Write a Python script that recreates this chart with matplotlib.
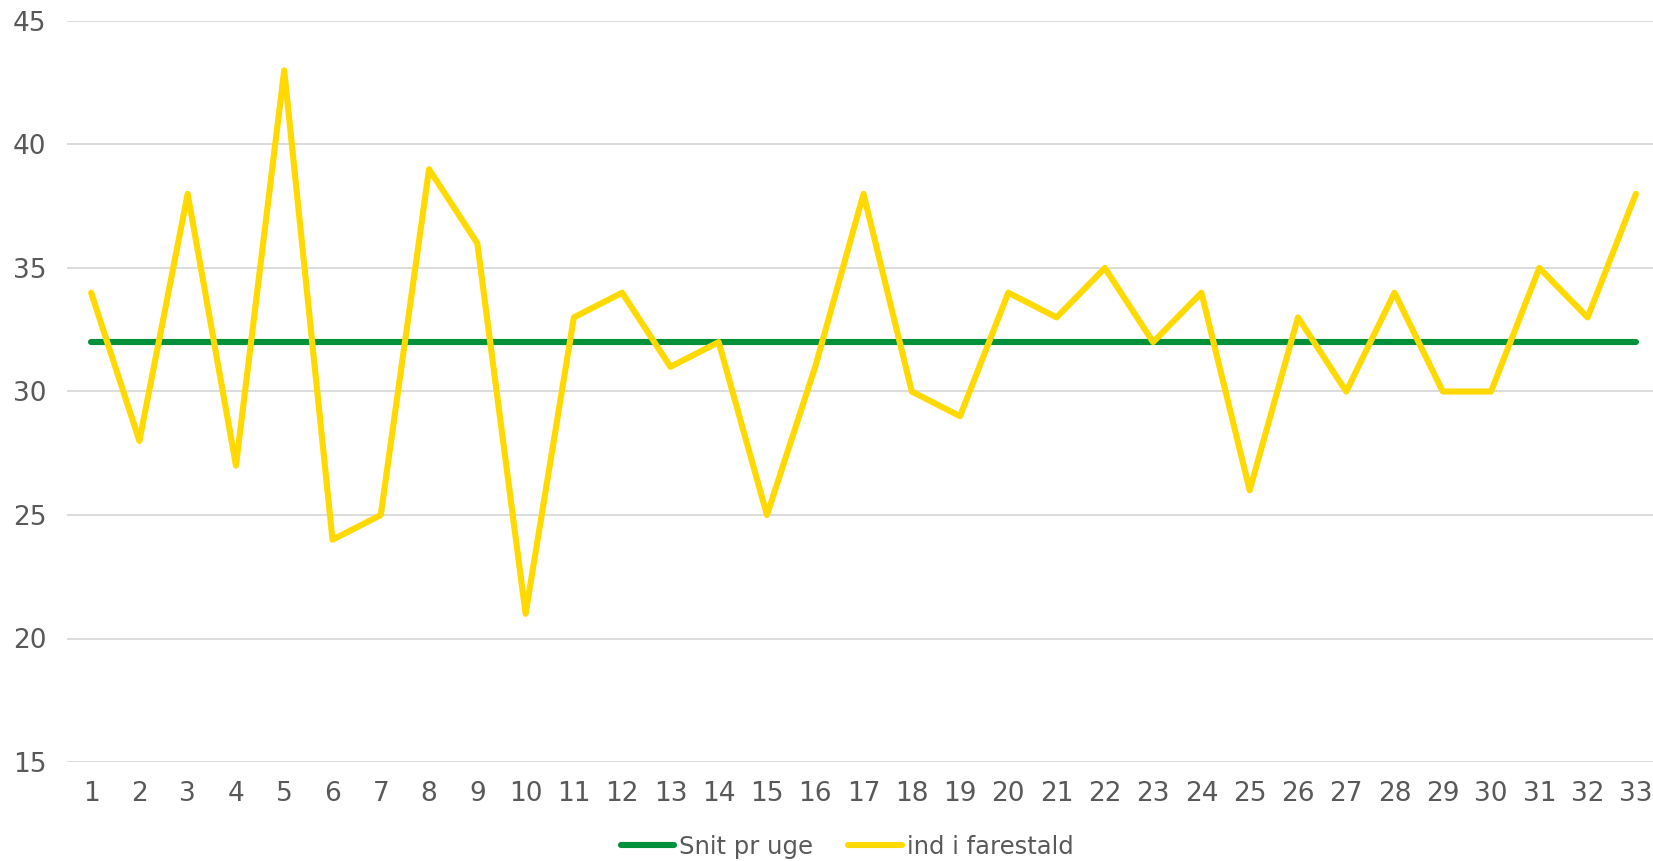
import matplotlib.pyplot as plt
import numpy as np

weeks = list(range(1, 34))
ind_i_farestald = [34, 28, 38, 27, 43, 24, 25, 39, 36, 21, 33, 34, 31, 32, 25, 31, 38,
                   30, 29, 34, 33, 35, 32, 34, 26, 33, 30, 34, 30, 30, 35, 33, 38]
snit_pr_uge = [32] * len(weeks)

W, H = 1653, 861
fig = plt.figure(figsize=(W / 100, H / 100), dpi=100)
# plot area runs past the right edge, like the original
left, right, bottom, top = 67, 1660, 762, 21
ax = fig.add_axes([left / W, 1 - bottom / H, (right - left) / W, (bottom - top) / H])

ax.plot(weeks, snit_pr_uge, color='#00913A', lw=4.4, solid_capstyle='round',
        label='Snit pr uge', zorder=3)
ax.plot(weeks, ind_i_farestald, color='#FFD900', lw=4.4, solid_capstyle='round',
        solid_joinstyle='round', label='ind i farestald', zorder=4)

ax.set_xlim(0.5, 33.5)
ax.set_ylim(15, 45)
ax.set_yticks(np.arange(15, 46, 5))
ax.set_xticks(weeks)
ax.grid(axis='y', color='#D9D9D9', lw=1.3)
ax.set_axisbelow(True)
for s in ax.spines.values():
    s.set_visible(False)
ax.tick_params(length=0, labelsize=19, colors='#595959', pad=14)
ax.tick_params(axis='y', pad=15)

leg = ax.legend(loc='center', bbox_to_anchor=(847 / W, (H - 847) / H), bbox_transform=fig.transFigure,
                ncol=2, frameon=False, fontsize=17.5, handlelength=2.2, handletextpad=0.2,
                columnspacing=1.45)
for t in leg.get_texts():
    t.set_color('#595959')

fig.savefig('out.png', dpi=100)
